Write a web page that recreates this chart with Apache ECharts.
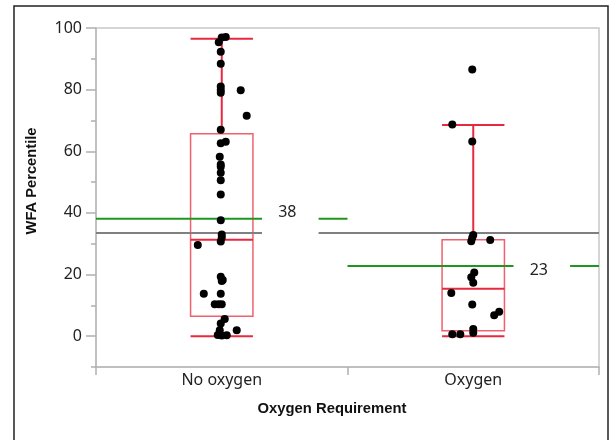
<!DOCTYPE html>
<html><head><meta charset="utf-8">
<script src="https://cdn.jsdelivr.net/npm/echarts@6/dist/echarts.min.js"></script>
<style>html,body{margin:0;padding:0;background:#fff}#c{width:610px;height:440px}</style>
</head><body><div id="c"></div>
<script>
// ---- data ----
const categories = ['No oxygen', 'Oxygen'];
// [low whisker, Q1, median, Q3, high whisker]
const noOxygenBox = [0, 6.5, 31.3, 65.7, 96.5];
const oxygenBox = [0, 1.8, 15.4, 31.3, 68.5];
const groupMeans = [38.1, 22.8];
const grandMean = 33.5;
const yTickLabels = [0, 20, 40, 60, 80, 100];
const yMinorTicks = [-10, 10, 30, 50, 70, 90];
const noOxygenValues = [96.9, 97.1, 95.4, 92.3, 88.4, 81.0, 79.9, 79.0, 79.8, 71.5, 67.0, 62.6, 63.1, 58.2, 55.7, 55.0, 53.0, 50.6, 46.0, 37.6, 33.0, 32.0, 30.7, 29.6, 19.3, 18.2, 17.9, 13.8, 13.8, 10.4, 10.4, 10.4, 5.6, 4.1, 1.9, 1.9, 0.4, 0.2, 0.3];
const noOxygenJitter = [0, 4, -3, -1, -1, -1, -1, -1, 19, 25, -1, -1, 4, -2, -1, -1, -1, -1, -1, -1, 0, 0, -1, -24, -1, 1, 0, -18, -1, -7, -3, 0, 3, -1, -2, 15, -4, 0, 5];
const oxygenValues = [86.5, 68.7, 63.2, 32.8, 31.9, 30.8, 31.2, 20.7, 19.1, 17.3, 14.0, 10.3, 6.8, 7.9, 2.3, 1.1, 0.6, 0.6];
const oxygenJitter = [-1, -21, -1, 0, -1, -2, 17, 1, -2, 0, -22, -1, 21, 26, 0, 0, -21, -13];

// ---- build ----
const BAND_PX = 252;
function pts(ci, vals, jit) { return vals.map((v, k) => [ci + jit[k] / BAND_PX, v]); }
const scatterData = pts(0, noOxygenValues, noOxygenJitter).concat(pts(1, oxygenValues, oxygenJitter));
const boxData = [[0].concat(noOxygenBox), [1].concat(oxygenBox)];
const meanData = groupMeans.map((m, i) => [i, m]);

const BOX_HALF = 0.124;
const RED = '#e8283f', PINK = '#f0606f', GREEN = '#1f961f', GRAY = '#808080';
const FONT = '"Noto Sans", "Open Sans", sans-serif';

const chart = echarts.init(document.getElementById('c'), null, {renderer: 'canvas'});
chart.setOption({
  animation: false,
  backgroundColor: '#fff',
  grid: {left: 96, right: 11, top: 28, bottom: 73, show: true, borderColor: '#c8c8c8', borderWidth: 1.5, containLabel: false},
  xAxis: [
    {type: 'category', data: categories, boundaryGap: true,
     axisLine: {onZero: false, lineStyle: {color: '#b8b8b8', width: 1.5}},
     axisTick: {show: true, length: 8, lineStyle: {color: '#b0b0b0', width: 1.5}},
     axisLabel: {fontSize: 16, color: '#222', fontFamily: FONT, margin: 5},
     splitLine: {show: false}},
    {type: 'value', min: -0.5, max: 1.5, show: false, axisLine: {onZero: false}, splitLine: {show: false}}
  ],
  yAxis: [
    {type: 'value', min: -10, max: 100, interval: 10,
     axisLine: {show: true, onZero: false, lineStyle: {color: '#b8b8b8', width: 1.5}},
     axisTick: {show: true, length: 10, customValues: yTickLabels, lineStyle: {color: '#b0b0b0', width: 1.5}},
     axisLabel: {customValues: yTickLabels, fontSize: 16, color: '#222', fontFamily: FONT, margin: 14},
     splitLine: {show: false}},
    {type: 'value', min: -10, max: 100, interval: 10, position: 'left',
     axisLine: {show: false, onZero: false},
     axisTick: {show: true, length: 5, customValues: yMinorTicks, lineStyle: {color: '#b0b0b0', width: 1.5}},
     axisLabel: {show: false}, splitLine: {show: false}}
  ],
  graphic: [
    {type: 'rect', shape: {x: 14, y: 6, width: 594, height: 450}, style: {fill: 'none', stroke: '#222', lineWidth: 1.5}, silent: true, z: 0},
    {type: 'text', x: 32, y: 181, rotation: Math.PI / 2,
     style: {text: 'WFA Percentile', align: 'center', verticalAlign: 'middle', fill: '#111', fontSize: 14.7, fontWeight: 'bold', fontFamily: '"Liberation Sans", Arial, sans-serif'}},
    {type: 'text', x: 332, y: 409,
     style: {text: 'Oxygen Requirement', align: 'center', verticalAlign: 'middle', fill: '#111', fontSize: 14.8, fontWeight: 'bold', fontFamily: '"Liberation Sans", Arial, sans-serif'}}
  ],
  series: [
    {type: 'custom', xAxisIndex: 1, yAxisIndex: 0, z: 2, data: boxData,
     renderItem: function (params, api) {
       const c = api.value(0);
       const lo = api.coord([c, api.value(1)]), q1 = api.coord([c, api.value(2)]), md = api.coord([c, api.value(3)]),
             q3 = api.coord([c, api.value(4)]), hi = api.coord([c, api.value(5)]);
       const xl = api.coord([c - BOX_HALF, 0])[0], xr = api.coord([c + BOX_HALF, 0])[0];
       const red = {stroke: RED, lineWidth: 2};
       return {type: 'group', children: [
         {type: 'rect', shape: {x: xl, y: q3[1], width: xr - xl, height: q1[1] - q3[1]}, style: {fill: 'none', stroke: PINK, lineWidth: 1.5}},
         {type: 'line', shape: {x1: xl, y1: md[1], x2: xr, y2: md[1]}, style: red},
         {type: 'line', shape: {x1: hi[0], y1: q3[1], x2: hi[0], y2: hi[1]}, style: red},
         {type: 'line', shape: {x1: lo[0], y1: q1[1], x2: lo[0], y2: lo[1]}, style: red},
         {type: 'line', shape: {x1: xl, y1: hi[1], x2: xr, y2: hi[1]}, style: red},
         {type: 'line', shape: {x1: xl, y1: lo[1], x2: xr, y2: lo[1]}, style: red}
       ]};
     }},
    {type: 'custom', xAxisIndex: 1, yAxisIndex: 0, z: 3, data: [[0, grandMean]],
     renderItem: function (params, api) {
       const a = api.coord([-0.5, api.value(1)]), b = api.coord([1.5, api.value(1)]);
       return {type: 'line', shape: {x1: a[0], y1: a[1], x2: b[0], y2: b[1]}, style: {stroke: GRAY, lineWidth: 2}};
     }},
    {type: 'custom', xAxisIndex: 1, yAxisIndex: 0, z: 4, data: meanData,
     renderItem: function (params, api) {
       const c = api.value(0), m = api.value(1);
       const a = api.coord([c - 0.5, m]), b = api.coord([c + 0.5, m]);
       const w = b[0] - a[0];
       const g0 = a[0] + 0.66 * w, g1 = a[0] + 0.885 * w;
       const above = m > grandMean;
       const ry0 = above ? a[1] - 20 : a[1] - 6, ry1 = above ? a[1] + 16 : a[1] + 22;
       const ty = above ? a[1] - 6 : a[1] + 5;
       return {type: 'group', children: [
         {type: 'line', shape: {x1: a[0], y1: a[1], x2: b[0], y2: b[1]}, style: {stroke: GREEN, lineWidth: 2}},
         {type: 'rect', shape: {x: g0, y: ry0, width: g1 - g0, height: ry1 - ry0}, style: {fill: '#fff'}},
         {type: 'text', x: (g0 + g1) / 2 - 3, y: ty, style: {text: String(Math.round(m)), align: 'center', verticalAlign: 'middle', fill: '#222', fontSize: 16, fontFamily: FONT}}
       ]};
     }},
    {type: 'scatter', xAxisIndex: 1, yAxisIndex: 0, z: 5, data: scatterData, symbolSize: 8,
     itemStyle: {color: '#000', opacity: 1}}
  ]
});
</script></body></html>
